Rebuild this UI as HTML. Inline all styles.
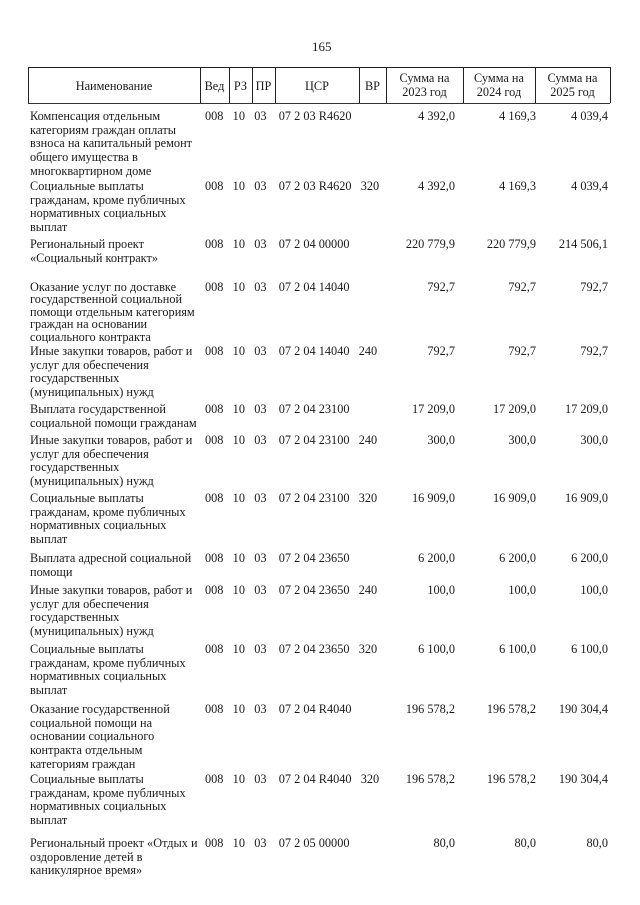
<!DOCTYPE html>
<html><head><meta charset="utf-8"><style>
body{margin:0;background:#fff;}
#p{position:relative;width:640px;height:905px;font-family:"Liberation Serif","Noto Serif CJK SC",serif;color:#1a1a1a;font-size:12.3px;line-height:13.7px;}
.a{position:absolute;white-space:nowrap;}
.r{position:absolute;white-space:nowrap;text-align:right;}
.h{position:absolute;text-align:center;line-height:14px;font-family:"Liberation Serif",serif;}
.v{position:absolute;top:67px;height:36px;border-left:1px solid #222;}
</style></head><body><div id="p">
<div class="a" style="left:312px;top:40px;font-size:13px">165</div>
<div style="position:absolute;left:28px;top:67px;width:582px;height:35px;border-top:1.5px solid #222;border-bottom:1px solid #333;"></div>
<div class="v" style="left:28px"></div><div class="v" style="left:200px"></div><div class="v" style="left:229px"></div><div class="v" style="left:252px"></div><div class="v" style="left:275px"></div><div class="v" style="left:359px"></div><div class="v" style="left:386px"></div><div class="v" style="left:463px"></div><div class="v" style="left:535px"></div><div class="v" style="left:610px"></div>
<div class="h" style="left:28px;width:172px;top:79px">Наименование</div>
<div class="h" style="left:200px;width:29px;top:79px">Вед</div>
<div class="h" style="left:229px;width:23px;top:79px">РЗ</div>
<div class="h" style="left:252px;width:23px;top:79px">ПР</div>
<div class="h" style="left:275px;width:84px;top:79px">ЦСР</div>
<div class="h" style="left:359px;width:27px;top:79px">ВР</div>
<div class="h" style="left:386px;width:77px;top:71px">Сумма на<br>2023 год</div>
<div class="h" style="left:463px;width:72px;top:71px">Сумма на<br>2024 год</div>
<div class="h" style="left:535px;width:75px;top:71px">Сумма на<br>2025 год</div>

<div class="a" style="left:30px;top:110px">Компенсация отдельным<br>категориям граждан оплаты<br>взноса на капитальный ремонт<br>общего имущества в<br>многоквартирном доме</div>
<div class="a" style="left:205px;top:110px">008&nbsp;&nbsp;&nbsp;10&nbsp;&nbsp;&nbsp;03&nbsp;&nbsp;&nbsp;&nbsp;07 2 03 R4620</div>
<div class="r" style="right:185px;top:110px">4 392,0</div><div class="r" style="right:104px;top:110px">4 169,3</div><div class="r" style="right:32px;top:110px">4 039,4</div>

<div class="a" style="left:30px;top:180px">Социальные выплаты<br>гражданам, кроме публичных<br>нормативных социальных<br>выплат</div>
<div class="a" style="left:205px;top:180px">008&nbsp;&nbsp;&nbsp;10&nbsp;&nbsp;&nbsp;03&nbsp;&nbsp;&nbsp;&nbsp;07 2 03 R4620&nbsp;&nbsp;&nbsp;320</div>
<div class="r" style="right:185px;top:180px">4 392,0</div><div class="r" style="right:104px;top:180px">4 169,3</div><div class="r" style="right:32px;top:180px">4 039,4</div>

<div class="a" style="left:30px;top:238px">Региональный проект<br>«Социальный контракт»</div>
<div class="a" style="left:205px;top:238px">008&nbsp;&nbsp;&nbsp;10&nbsp;&nbsp;&nbsp;03&nbsp;&nbsp;&nbsp;&nbsp;07 2 04 00000</div>
<div class="r" style="right:185px;top:238px">220 779,9</div><div class="r" style="right:104px;top:238px">220 779,9</div><div class="r" style="right:32px;top:238px">214 506,1</div>

<div class="a" style="left:30px;top:281px;line-height:12.4px">Оказание услуг по доставке<br>государственной социальной<br>помощи отдельным категориям<br>граждан на основании<br>социального контракта</div>
<div class="a" style="left:205px;top:281px">008&nbsp;&nbsp;&nbsp;10&nbsp;&nbsp;&nbsp;03&nbsp;&nbsp;&nbsp;&nbsp;07 2 04 14040</div>
<div class="r" style="right:185px;top:281px">792,7</div><div class="r" style="right:104px;top:281px">792,7</div><div class="r" style="right:32px;top:281px">792,7</div>

<div class="a" style="left:30px;top:345px">Иные закупки товаров, работ и<br>услуг для обеспечения<br>государственных<br>(муниципальных) нужд</div>
<div class="a" style="left:205px;top:345px">008&nbsp;&nbsp;&nbsp;10&nbsp;&nbsp;&nbsp;03&nbsp;&nbsp;&nbsp;&nbsp;07 2 04 14040&nbsp;&nbsp;&nbsp;240</div>
<div class="r" style="right:185px;top:345px">792,7</div><div class="r" style="right:104px;top:345px">792,7</div><div class="r" style="right:32px;top:345px">792,7</div>

<div class="a" style="left:30px;top:403px">Выплата государственной<br>социальной помощи гражданам</div>
<div class="a" style="left:205px;top:403px">008&nbsp;&nbsp;&nbsp;10&nbsp;&nbsp;&nbsp;03&nbsp;&nbsp;&nbsp;&nbsp;07 2 04 23100</div>
<div class="r" style="right:185px;top:403px">17 209,0</div><div class="r" style="right:104px;top:403px">17 209,0</div><div class="r" style="right:32px;top:403px">17 209,0</div>

<div class="a" style="left:30px;top:434px">Иные закупки товаров, работ и<br>услуг для обеспечения<br>государственных<br>(муниципальных) нужд</div>
<div class="a" style="left:205px;top:434px">008&nbsp;&nbsp;&nbsp;10&nbsp;&nbsp;&nbsp;03&nbsp;&nbsp;&nbsp;&nbsp;07 2 04 23100&nbsp;&nbsp;&nbsp;240</div>
<div class="r" style="right:185px;top:434px">300,0</div><div class="r" style="right:104px;top:434px">300,0</div><div class="r" style="right:32px;top:434px">300,0</div>

<div class="a" style="left:30px;top:492px">Социальные выплаты<br>гражданам, кроме публичных<br>нормативных социальных<br>выплат</div>
<div class="a" style="left:205px;top:492px">008&nbsp;&nbsp;&nbsp;10&nbsp;&nbsp;&nbsp;03&nbsp;&nbsp;&nbsp;&nbsp;07 2 04 23100&nbsp;&nbsp;&nbsp;320</div>
<div class="r" style="right:185px;top:492px">16 909,0</div><div class="r" style="right:104px;top:492px">16 909,0</div><div class="r" style="right:32px;top:492px">16 909,0</div>

<div class="a" style="left:30px;top:552px">Выплата адресной социальной<br>помощи</div>
<div class="a" style="left:205px;top:552px">008&nbsp;&nbsp;&nbsp;10&nbsp;&nbsp;&nbsp;03&nbsp;&nbsp;&nbsp;&nbsp;07 2 04 23650</div>
<div class="r" style="right:185px;top:552px">6 200,0</div><div class="r" style="right:104px;top:552px">6 200,0</div><div class="r" style="right:32px;top:552px">6 200,0</div>

<div class="a" style="left:30px;top:584px">Иные закупки товаров, работ и<br>услуг для обеспечения<br>государственных<br>(муниципальных) нужд</div>
<div class="a" style="left:205px;top:584px">008&nbsp;&nbsp;&nbsp;10&nbsp;&nbsp;&nbsp;03&nbsp;&nbsp;&nbsp;&nbsp;07 2 04 23650&nbsp;&nbsp;&nbsp;240</div>
<div class="r" style="right:185px;top:584px">100,0</div><div class="r" style="right:104px;top:584px">100,0</div><div class="r" style="right:32px;top:584px">100,0</div>

<div class="a" style="left:30px;top:643px">Социальные выплаты<br>гражданам, кроме публичных<br>нормативных социальных<br>выплат</div>
<div class="a" style="left:205px;top:643px">008&nbsp;&nbsp;&nbsp;10&nbsp;&nbsp;&nbsp;03&nbsp;&nbsp;&nbsp;&nbsp;07 2 04 23650&nbsp;&nbsp;&nbsp;320</div>
<div class="r" style="right:185px;top:643px">6 100,0</div><div class="r" style="right:104px;top:643px">6 100,0</div><div class="r" style="right:32px;top:643px">6 100,0</div>

<div class="a" style="left:30px;top:703px">Оказание государственной<br>социальной помощи на<br>основании социального<br>контракта отдельным<br>категориям граждан</div>
<div class="a" style="left:205px;top:703px">008&nbsp;&nbsp;&nbsp;10&nbsp;&nbsp;&nbsp;03&nbsp;&nbsp;&nbsp;&nbsp;07 2 04 R4040</div>
<div class="r" style="right:185px;top:703px">196 578,2</div><div class="r" style="right:104px;top:703px">196 578,2</div><div class="r" style="right:32px;top:703px">190 304,4</div>

<div class="a" style="left:30px;top:773px">Социальные выплаты<br>гражданам, кроме публичных<br>нормативных социальных<br>выплат</div>
<div class="a" style="left:205px;top:773px">008&nbsp;&nbsp;&nbsp;10&nbsp;&nbsp;&nbsp;03&nbsp;&nbsp;&nbsp;&nbsp;07 2 04 R4040&nbsp;&nbsp;&nbsp;320</div>
<div class="r" style="right:185px;top:773px">196 578,2</div><div class="r" style="right:104px;top:773px">196 578,2</div><div class="r" style="right:32px;top:773px">190 304,4</div>

<div class="a" style="left:30px;top:837px">Региональный проект «Отдых и<br>оздоровление детей в<br>каникулярное время»</div>
<div class="a" style="left:205px;top:837px">008&nbsp;&nbsp;&nbsp;10&nbsp;&nbsp;&nbsp;03&nbsp;&nbsp;&nbsp;&nbsp;07 2 05 00000</div>
<div class="r" style="right:185px;top:837px">80,0</div><div class="r" style="right:104px;top:837px">80,0</div><div class="r" style="right:32px;top:837px">80,0</div>
</div></body></html>
